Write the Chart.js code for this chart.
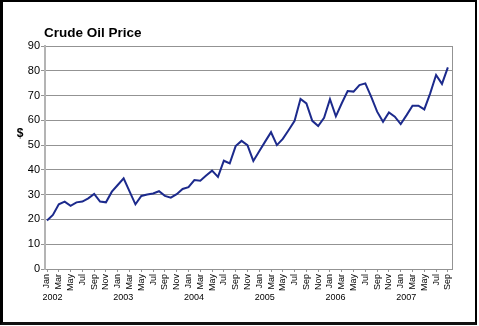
<!DOCTYPE html>
<html>
<head>
<meta charset="utf-8">
<script src="https://cdn.jsdelivr.net/npm/chart.js@4"></script>
<style>
  body { margin: 0; background: #fff; }
  #wrap { position: relative; width: 479px; height: 326px; }
  #frame {
    position: absolute; left: 0; top: 0; width: 477px; height: 325px;
    box-sizing: border-box;
    border-left: 3px solid #000; border-top: 2px solid #000;
    border-right: 2px solid #000; border-bottom: 3px solid #111;
    pointer-events: none;
  }
</style>
</head>
<body>
<div id="wrap">
  <canvas id="oil" width="479" height="326"></canvas>
  <div id="frame"></div>
</div>
<script>
// monthly crude price, Jan 2002 .. Sep 2007
const monthNames = ['Jan','Feb','Mar','Apr','May','Jun','Jul','Aug','Sep','Oct','Nov','Dec'];
const years = ['2002','2003','2004','2005','2006','2007'];
const price2002 = [19.6, 21.8, 26.1, 27.2, 25.5, 26.9, 27.2, 28.5, 30.3, 27.2, 26.9, 31.2];
const price2003 = [33.9, 36.6, 31.3, 26.1, 29.5, 30.1, 30.5, 31.4, 29.5, 28.8, 30.2, 32.3];
const price2004 = [33.0, 35.9, 35.6, 37.7, 39.7, 37.2, 43.7, 42.6, 49.6, 51.7, 50.0, 43.6];
const price2005 = [47.5, 51.4, 55.2, 50.0, 52.5, 56.1, 59.8, 68.6, 66.8, 59.8, 57.7, 61.0];
const price2006 = [68.5, 61.6, 66.9, 71.8, 71.6, 74.2, 74.9, 69.5, 63.5, 59.4, 63.2, 61.5];
const price2007 = [58.5, 62.1, 65.9, 65.9, 64.4, 70.9, 78.3, 74.7, 81.4];
const yTicks = [0, 10, 20, 30, 40, 50, 60, 70, 80, 90];

const prices = [].concat(price2002, price2003, price2004, price2005, price2006, price2007);
const pts = prices.map((v, i) => ({ x: i, y: v }));

const narrow = "'Liberation Sans Narrow', 'Liberation Sans', Arial, sans-serif";
const gridGray = '#939393';

// title, the "$" label, year row and the right edge of the plot frame
const extras = {
  id: 'extras',
  afterDraw(chart) {
    const c = chart.ctx, a = chart.chartArea, xs = chart.scales.x;
    c.save();
    c.strokeStyle = gridGray;
    c.lineWidth = 1;
    c.beginPath();
    c.moveTo(Math.round(a.right) + 0.5, a.top);
    c.lineTo(Math.round(a.right) + 0.5, a.bottom);
    c.stroke();

    c.fillStyle = '#000';
    c.font = "bold 13.5px 'Liberation Sans', Arial, sans-serif";
    c.textBaseline = 'alphabetic';
    c.textAlign = 'left';
    c.fillText('Crude Oil Price', 44, 37);
    c.textAlign = 'center';
    c.textBaseline = 'middle';
    c.font = "bold 12px 'Liberation Sans', Arial, sans-serif";
    c.fillText('$', 20, 134);

    c.font = "9px " + narrow;
    years.forEach((y, k) => {
      c.fillText(y, xs.getPixelForValue(k * 12) + 5.5, 297.5);
    });
    c.restore();
  }
};

new Chart(document.getElementById('oil'), {
  type: 'line',
  data: {
    datasets: [{
      data: pts,
      borderColor: '#1c2a8c',
      borderWidth: 2,
      pointRadius: 0,
      tension: 0,
      fill: false
    }]
  },
  options: {
    responsive: false,
    animation: false,
    layout: { padding: { left: 0, top: 46, right: 27, bottom: 27 } },
    plugins: { legend: { display: false }, tooltip: { enabled: false } },
    scales: {
      x: {
        type: 'linear',
        min: -0.34,
        max: 68.7,
        afterBuildTicks: (s) => {
          s.ticks = prices.map((v, i) => ({ value: i })).filter(t => t.value % 2 === 0);
        },
        afterFit: (s) => { s.height = 30; },
        ticks: {
          autoSkip: false,
          minRotation: 90,
          maxRotation: 90,
          padding: 2,
          color: '#000',
          font: { family: narrow, size: 9 },
          callback: (v) => monthNames[v % 12]
        },
        grid: { drawOnChartArea: false, drawTicks: true, tickLength: 3, color: gridGray },
        border: { color: gridGray, width: 1 }
      },
      y: {
        min: 0,
        max: 90,
        afterBuildTicks: (s) => { s.ticks = yTicks.map(v => ({ value: v })); },
        afterFit: (s) => { s.width = 45; },
        ticks: { color: '#000', font: { family: narrow, size: 11 }, padding: 1 },
        grid: { color: gridGray, tickLength: 4 },
        border: { color: '#b4b4b4', width: 2 }
      }
    }
  },
  plugins: [extras]
});
</script>
</body>
</html>
